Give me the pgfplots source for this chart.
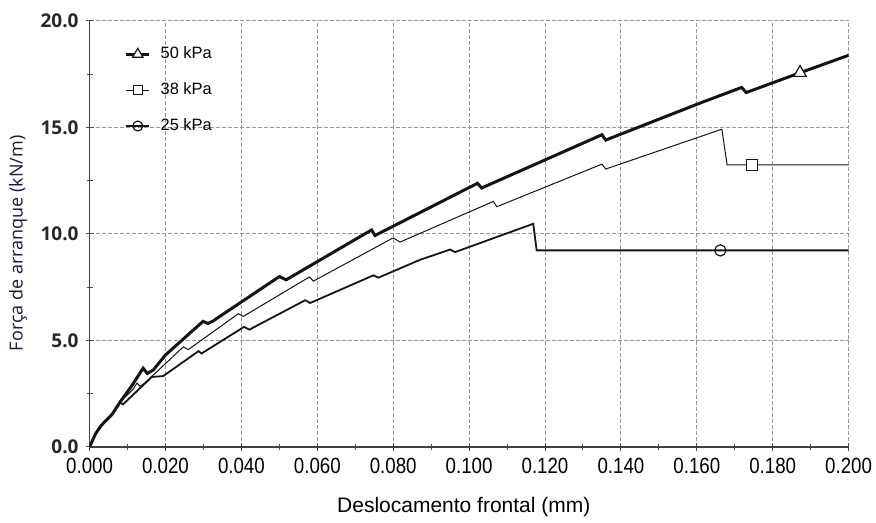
\documentclass[border=0pt]{standalone}
\usepackage{fontspec}
\setmainfont{Liberation Sans}
\newfontfamily\narrowfont{Liberation Sans}[FakeStretch=0.85]
\newfontfamily\ytfont{Open Sans}
\usepackage{pgfplots}
\pgfplotsset{compat=1.18}
\definecolor{gridc}{RGB}{150,150,150}
\definecolor{linec}{RGB}{20,20,20}

\begin{document}
\begin{tikzpicture}
\begin{axis}[
    name=ax,
    scale only axis, width=379.5pt, height=213pt,
    xmin=0, xmax=0.2, ymin=0, ymax=20,
    axis x line*=bottom, axis y line*=left,
    axis line style={-, draw=black!75, line width=0.6pt},
    xtick={0,0.02,0.04,0.06,0.08,0.1,0.12,0.14,0.16,0.18,0.2},
    minor xtick={0.01,0.03,0.05,0.07,0.09,0.11,0.13,0.15,0.17,0.19},
    ytick={0,5,10,15,20},
    minor ytick={2.5,7.5,12.5,17.5},
    scaled x ticks=false,
    tick align=center,
    major tick length=4pt, minor tick length=3pt,
    tick style={draw=black!70, line width=0.5pt},
    grid=major,
    major grid style={draw=gridc, line width=0.5pt, dash pattern=on 2pt off 1pt},
    xticklabel style={font=\narrowfont\fontsize{11}{12}\selectfont,
        /pgf/number format/fixed, /pgf/number format/fixed zerofill,
        /pgf/number format/precision=3, /pgf/number format/assume math mode=true},
    yticklabel style={font=\ytfont\bfseries\fontsize{9.5}{11}\selectfont, text=black!85,
        /pgf/number format/fixed, /pgf/number format/fixed zerofill,
        /pgf/number format/precision=1, /pgf/number format/assume math mode=true},
    xlabel={Deslocamento frontal (mm)},
    ylabel={Força de arranque (kN/m)},
    xlabel style={font=\fontsize{10.5}{12}\selectfont, at={(axis description cs:0.493,0)}, anchor=center, yshift=-30pt},
    ylabel style={font=\ytfont\fontsize{9}{11}\selectfont, text={rgb,255:red,25;green,25;blue,60}, at={(axis description cs:-0.0945,0.478)}, anchor=center},
    legend style={at={(axis description cs:0.046,0.945)}, anchor=north west,
        draw=none, fill=none, font=\fontsize{8.2}{9}\selectfont, row sep=8.5pt, column sep=4pt,
        inner sep=0pt, nodes={inner sep=1pt}},
    legend cell align=left,
    legend image code/.code={\draw[mark repeat=2,mark phase=2,#1] plot coordinates {(0cm,0cm)(0.2cm,0cm)(0.4cm,0cm)};},
  ]
  % 50 kPa
  \addplot[linec, line width=1.5pt, forget plot] coordinates {
    (0,0)(0.0015,0.6)(0.003,1.0)(0.006,1.55)(0.008,2.1)(0.0114,2.95)
    (0.0141,3.7)(0.0152,3.45)(0.0168,3.62)(0.02,4.32)(0.0299,5.9)
    (0.0312,5.8)(0.0326,5.92)(0.0343,6.13)(0.05,8.0)(0.0518,7.85)
    (0.0743,10.19)(0.0752,9.93)(0.0871,11.01)(0.1022,12.38)(0.1033,12.16)
    (0.135,14.66)(0.136,14.41)(0.1609,16.15)(0.1718,16.88)(0.173,16.64)
    (0.1872,17.57)(0.2,18.39)
  };
  % 38 kPa
  \addplot[linec, line width=0.5pt, forget plot] coordinates {
    (0,0)(0.0015,0.6)(0.003,1.0)(0.006,1.55)(0.008,2.1)(0.0114,2.7)
    (0.0125,3.0)(0.0133,2.85)(0.0145,3.0)(0.0247,4.7)(0.026,4.57)
    (0.0392,6.26)(0.0405,6.13)(0.0579,7.98)(0.059,7.79)(0.08,9.82)
    (0.0818,9.62)(0.1064,11.53)(0.1073,11.28)(0.135,13.28)(0.136,13.05)
    (0.1666,14.92)(0.168,13.24)(0.2,13.24)
  };
  % 25 kPa
  \addplot[linec, line width=0.9pt, forget plot] coordinates {
    (0,0)(0.0015,0.6)(0.003,1.0)(0.006,1.55)(0.008,2.1)(0.0088,2.0)
    (0.0164,3.29)(0.0194,3.33)(0.0287,4.5)(0.0295,4.39)(0.0407,5.64)
    (0.0421,5.51)(0.0568,6.89)(0.0581,6.76)(0.0748,8.06)(0.0761,7.95)
    (0.0871,8.79)(0.095,9.27)(0.0963,9.15)(0.1169,10.48)(0.1178,9.23)
    (0.2,9.23)
  };
  % single markers
  \addplot[only marks, mark=triangle*, mark size=3.6pt, mark options={draw=linec, fill=white, line width=0.6pt}, forget plot]
    coordinates {(0.1872,17.57)};
  \addplot[only marks, mark=square*, mark size=2.7pt, mark options={draw=linec, fill=white, line width=0.6pt}, forget plot]
    coordinates {(0.1745,13.24)};
  \addplot[only marks, mark=o, mark size=2.8pt, mark options={draw=linec, line width=0.6pt}, forget plot]
    coordinates {(0.1662,9.23)};
  \addlegendimage{linec, line width=1.5pt, mark=triangle*, mark size=3pt, mark options={fill=white, line width=0.6pt}}
  \addlegendentry{50 kPa}
  \addlegendimage{linec, line width=0.5pt, mark=square*, mark size=2.3pt, mark options={fill=white, line width=0.6pt}}
  \addlegendentry{38 kPa}
  \addlegendimage{linec, line width=0.9pt, mark=o, mark size=2.5pt, mark options={line width=0.6pt}}
  \addlegendentry{25 kPa}
\end{axis}
\pgfresetboundingbox
\path ([shift={(-44.8pt,-38pt)}]ax.south west) rectangle ([shift={(13.7pt,10.5pt)}]ax.north east);
\end{tikzpicture}
\end{document}
